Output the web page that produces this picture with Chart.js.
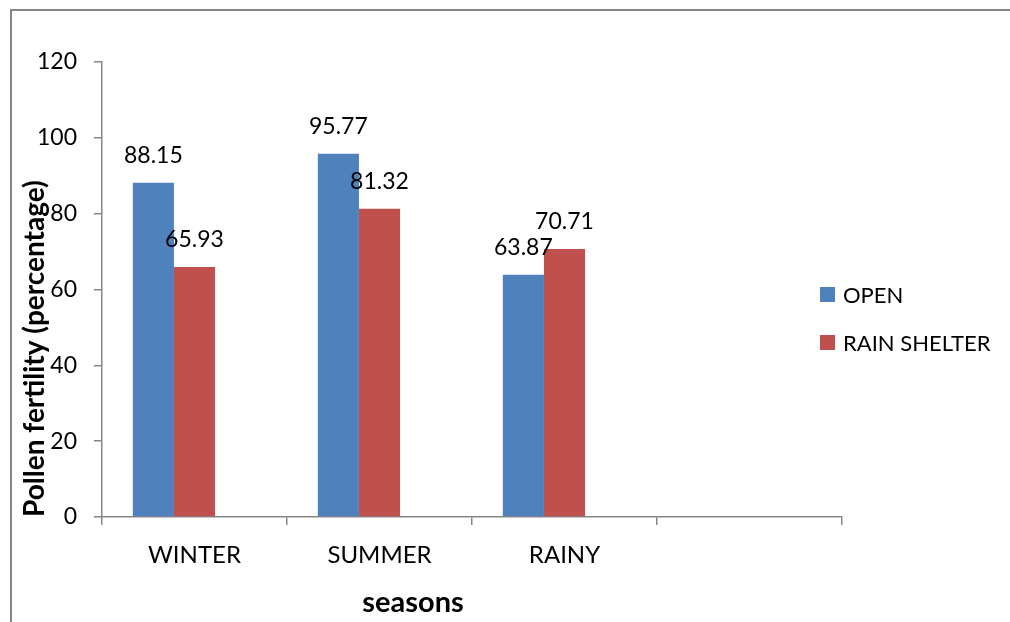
<!DOCTYPE html>
<html>
<head>
<meta charset="utf-8">
<script src="https://cdn.jsdelivr.net/npm/chart.js@4/dist/chart.umd.min.js"></script>
<style>
  html, body { margin: 0; padding: 0; background: #ffffff; }
  #wrap { width: 1010px; height: 622px; }
</style>
</head>
<body>
<div id="wrap"><canvas id="chart" width="1010" height="622"></canvas></div>
<script>
// Season categories (the last slot is left empty on the axis)
const seasons = ['WINTER', 'SUMMER', 'RAINY', ''];

// Pollen fertility (%) per season
const openValues = [88.15, 95.77, 63.87, null];
const shelterValues = [65.93, 81.32, 70.71, null];
// third series slot, no values
const spareValues = [null, null, null, null];

const seriesNames = ['OPEN', 'RAIN SHELTER', ''];
const yTicks = [0, 20, 40, 60, 80, 100, 120];

const axisTitleY = 'Pollen fertility (percentage)';
const axisTitleX = 'seasons';

const FONT = 'Lato, "Open Sans", "Liberation Sans", sans-serif';
const AXIS_GRAY = '#868686';

// outer frame of the chart object
const framePlugin = {
  id: 'frame',
  beforeDraw(chart) {
    const ctx = chart.ctx;
    ctx.save();
    ctx.strokeStyle = AXIS_GRAY;
    ctx.lineWidth = 2;
    ctx.beginPath();
    ctx.moveTo(11, chart.height);
    ctx.lineTo(11, 10);
    ctx.lineTo(chart.width, 10);
    ctx.stroke();
    ctx.restore();
  }
};

// value labels above each bar
const valueLabelPlugin = {
  id: 'valueLabels',
  afterDatasetsDraw(chart) {
    const ctx = chart.ctx;
    ctx.save();
    ctx.font = '23px ' + FONT;
    ctx.fillStyle = '#000000';
    ctx.textAlign = 'center';
    ctx.textBaseline = 'alphabetic';
    chart.data.datasets.forEach((ds, i) => {
      const meta = chart.getDatasetMeta(i);
      meta.data.forEach((bar, j) => {
        const v = ds.data[j];
        if (v === null || v === undefined) return;
        ctx.fillText(v.toFixed(2), bar.x, bar.y - 20);
      });
    });
    ctx.restore();
  }
};

// right-hand legend and the category axis title
const sideTextPlugin = {
  id: 'sideText',
  afterDraw(chart) {
    const ctx = chart.ctx;
    ctx.save();
    ctx.font = '22px ' + FONT;
    ctx.textAlign = 'left';
    ctx.textBaseline = 'middle';
    const rows = [294.5, 342.5];
    chart.data.datasets.slice(0, 2).forEach((ds, i) => {
      ctx.fillStyle = ds.backgroundColor;
      ctx.fillRect(820, rows[i] - 7.5, 15, 15);
      ctx.fillStyle = '#000000';
      ctx.fillText(ds.label, 843, rows[i] + 1);
    });
    ctx.font = 'bold 29px ' + FONT;
    ctx.textAlign = 'center';
    ctx.fillText(axisTitleX, 413, 603);
    ctx.restore();
  }
};

new Chart(document.getElementById('chart'), {
  type: 'bar',
  data: {
    labels: seasons,
    datasets: [
      { label: seriesNames[0], data: openValues, backgroundColor: '#4F81BD' },
      { label: seriesNames[1], data: shelterValues, backgroundColor: '#C0504D' },
      { label: seriesNames[2], data: spareValues, backgroundColor: '#9BBB59' }
    ]
  },
  options: {
    responsive: false,
    animation: false,
    devicePixelRatio: 1,
    categoryPercentage: 3 / 4.5,
    barPercentage: 1.0,
    layout: { padding: { left: 0, right: 168, top: 62, bottom: 0 } },
    plugins: {
      legend: { display: false },
      tooltip: { enabled: false }
    },
    scales: {
      x: {
        offset: true,
        grid: {
          offset: true,
          drawOnChartArea: false,
          drawTicks: true,
          tickLength: 8,
          color: AXIS_GRAY,
          lineWidth: 1.5
        },
        border: { display: true, color: AXIS_GRAY, width: 1.5 },
        ticks: {
          color: '#000000',
          font: { family: FONT, size: 24 },
          padding: 16,
          maxRotation: 0
        },
        afterFit(scale) { scale.height = 105; }
      },
      y: {
        min: 0,
        max: 120,
        afterBuildTicks(scale) { scale.ticks = yTicks.map(v => ({ value: v })); },
        grid: {
          drawOnChartArea: false,
          drawTicks: true,
          tickLength: 8,
          color: AXIS_GRAY,
          lineWidth: 1.5
        },
        border: { display: true, color: AXIS_GRAY, width: 1.5 },
        ticks: {
          color: '#000000',
          font: { family: FONT, size: 23 },
          padding: 17
        },
        title: {
          display: true,
          text: axisTitleY,
          align: 'start',
          color: '#000000',
          font: { family: FONT, size: 28, weight: 'bold' },
          padding: { top: 18, bottom: 0 }
        },
        afterFit(scale) { scale.width = 102; }
      }
    }
  },
  plugins: [framePlugin, valueLabelPlugin, sideTextPlugin]
});
</script>
</body>
</html>
